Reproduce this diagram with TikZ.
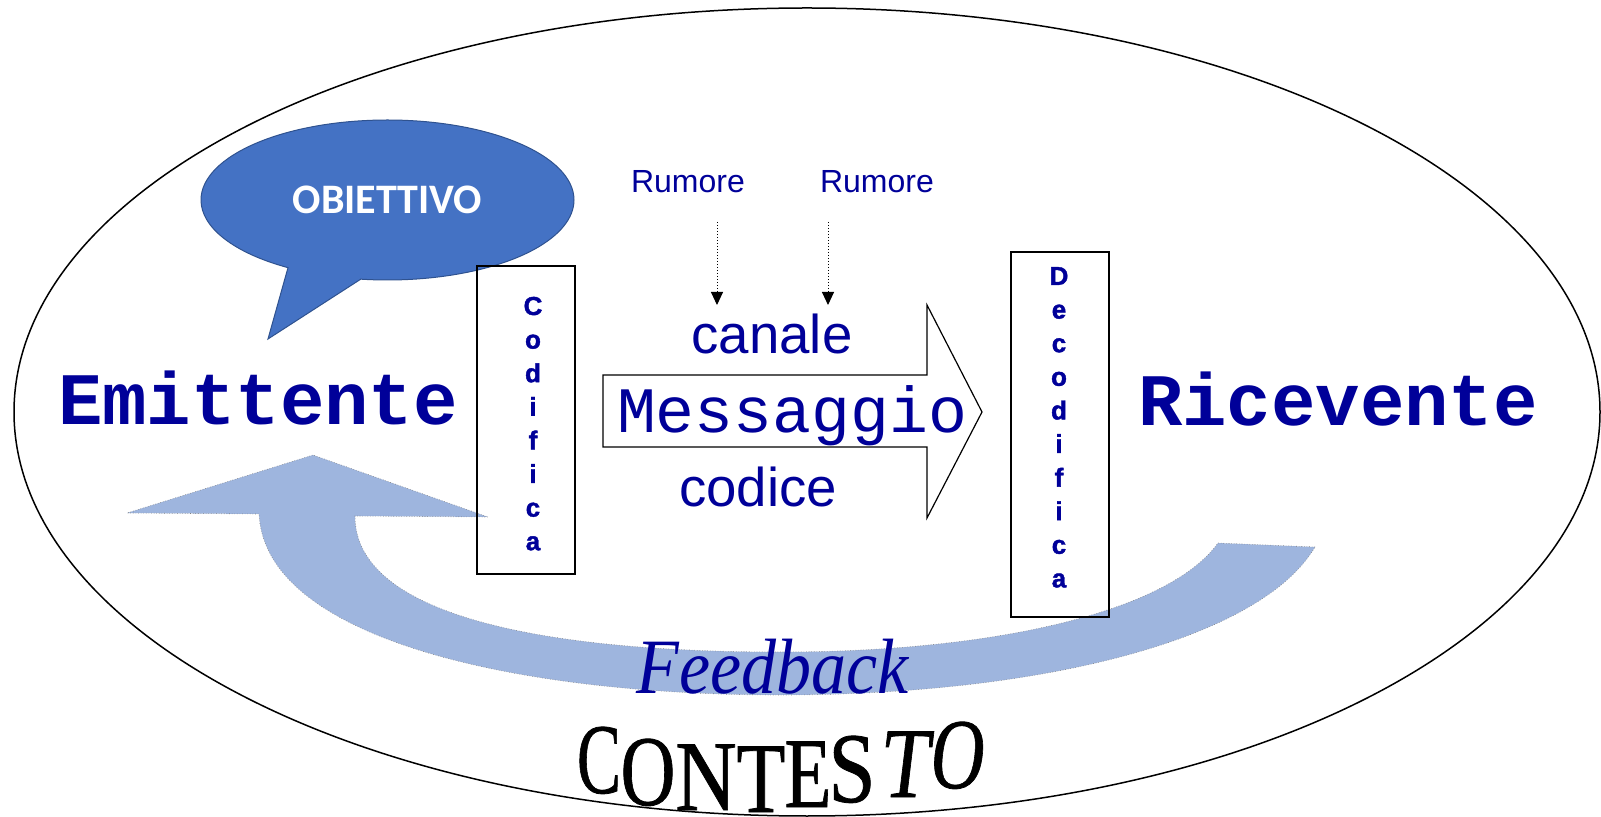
\documentclass[tikz,border=0pt]{standalone}
\usepackage{fontspec}
\setmainfont{Liberation Serif}
\newfontfamily\arialfont{Liberation Sans}
\newfontfamily\blackfont[BoldFeatures={FakeBold=1.5}]{Liberation Sans}
\newfontfamily\courierfont{Liberation Mono}
\newfontfamily\calibrifont{Carlito}
\newfontfamily\ctxup[FakeBold=0.8]{Liberation Serif}
\newfontfamily\ctxsl[FakeSlant=0.15,FakeBold=0.8]{Liberation Serif}
\usepackage{tikz}
\usetikzlibrary{arrows.meta,shapes.callouts,calc}
\definecolor{dkblue}{RGB}{0,0,153}
\definecolor{bubbleblue}{RGB}{68,114,196}
\definecolor{bubbleedge}{RGB}{47,82,143}
\definecolor{fbblue}{RGB}{158,181,222}
\tikzset{
  contour/.style={draw=black,line width=0.75pt},
  bubble/.style={ellipse callout,fill=bubbleblue,draw=bubbleedge,line width=0.5pt,
    minimum width=186.5pt,minimum height=80pt,inner sep=0pt,callout pointer arc=24,
    text=white,font=\calibrifont\bfseries\fontsize{21}{24}\selectfont},
  actor/.style={text=dkblue,font=\courierfont\bfseries\fontsize{37}{40}\selectfont,inner sep=0pt,anchor=base},
  codebox/.style={draw=black,line width=0.6pt,minimum width=49pt,inner sep=0pt},
  codeletter/.style={text=dkblue,font=\blackfont\bfseries\fontsize{13}{14}\selectfont,inner sep=0pt,anchor=base},
  channel/.style={text=dkblue,font=\arialfont\fontsize{27.3}{30}\selectfont,inner sep=0pt,anchor=base},
  noise/.style={text=dkblue,font=\arialfont\fontsize{16}{18}\selectfont,inner sep=0pt,anchor=base},
  noisearrow/.style={densely dotted,line width=0.5pt,-{Triangle[length=6.5pt,width=6pt]}},
  msgarrow/.style={draw=black,line width=0.6pt,fill=white},
  fbband/.style={fill=fbblue,draw=gray,densely dotted,line width=0.3pt},
  ctxletter/.style={inner sep=0pt,anchor=base}
}

\begin{document}
\begin{tikzpicture}[x=0.5pt,y=-0.5pt]
  \useasboundingbox (0,0) rectangle (1601,817);
  % contesto
  \draw[contour] (807,412) ellipse [x radius=396.5pt,y radius=202pt];

  % feedback
  \path[fbband] (1315,547) -- (1218,543)
    .. controls (1170,610) and (1000,652) .. (780,652)
    .. controls (560,652) and (355,620) .. (355,516)
    -- (488,517) -- (313,455) -- (127,513) -- (259,514)
    .. controls (265,640) and (520,695) .. (780,695)
    .. controls (1040,695) and (1260,640) .. (1315,547) -- cycle;

  \node[bubble,callout absolute pointer={(268,339)}] (obj) at (387.5,200) {OBIETTIVO};

  \node[actor] (emit) at (258,425) {Emittente};
  \node[actor] (ric) at (1338,426) {Ricevente};

  \node[codebox,minimum height=154pt] (cod) at (526,420) {};
  \foreach \l [count=\i from 0] in {C,o,d,i,f,i,c,a}
    \node[codeletter] (cod\i) at (533,315+33.6*\i) {\l};
  \node[codebox,minimum height=182.5pt] (dec) at (1060,434.5) {};
  \foreach \l [count=\i from 0] in {D,e,c,o,d,i,f,i,c,a}
    \node[codeletter] (dec\i) at (1059,285+33.6*\i) {\l};

  % messaggio
  \path[msgarrow] (603,375) -- (927,375) -- (927,305) -- (982,412)
    -- (927,518) -- (927,447) -- (603,447) -- cycle;
  \node[channel] (can) at (772,354) {canale};
  \node[channel,font=\courierfont\fontsize{32.4}{34}\selectfont] (msg) at (792,433) {Messaggio};
  \node[channel] (codice) at (758,507) {codice};

  \node[noise] (rum1) at (688,193) {Rumore};
  \node[noise] (rum2) at (877,193) {Rumore};
  \coordinate (n1top) at (717,222); \coordinate (n1) at (717,305);
  \coordinate (n2top) at (828,222); \coordinate (n2) at (828,305);
  \draw[noisearrow] (n1top) -- (n1);
  \draw[noisearrow] (n2top) -- (n2);

  \node[text=dkblue,font=\itshape\fontsize{35}{38}\selectfont,inner sep=0pt,anchor=base] (fb) at (773,693)
    {\scalebox{1}[1.12]{Feedback}};

  \foreach \ch/\cx/\cy/\cs/\cf [count=\i] in {C/599/793/0.66/\ctxup,O/648/805/0.76/\ctxup,
      N/706/810/0.85/\ctxup,T/761/812/0.8/\ctxup,E/808/807/0.77/\ctxup,S/852/802/0.85/\ctxup,
      T/903/797/0.8/\ctxsl,O/955/788/0.74/\ctxsl}
    \node[ctxletter] (ctx\i) at (\cx,\cy) {\cf\fontsize{50}{52}\selectfont\scalebox{\cs}[1]{\ch}};
\end{tikzpicture}
\end{document}
